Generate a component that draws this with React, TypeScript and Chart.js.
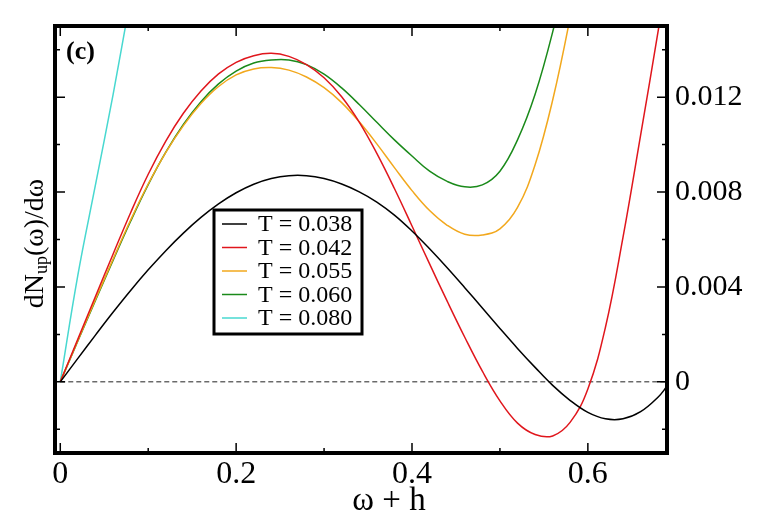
import { useEffect, useRef } from "react";
import { Chart, registerables } from "chart.js";

Chart.register(...registerables);

// omega + h grid (shared by all curves, shorter curves use a prefix of it)
const OMEGA = [
  0, 0.02, 0.04, 0.06, 0.08, 0.1, 0.12, 0.14, 0.16, 0.18, 0.2, 0.22, 0.24, 0.26, 0.28, 0.3, 0.32, 0.34,
  0.36, 0.38, 0.4, 0.42, 0.44, 0.46, 0.48, 0.5, 0.52, 0.54, 0.56, 0.58, 0.6, 0.62, 0.64, 0.66, 0.68, 0.69,
];

const DOS_T038 = [
  0, 0.00099, 0.00197, 0.00293, 0.00385, 0.00472, 0.00553, 0.00627, 0.00693, 0.0075, 0.00797, 0.00833,
  0.00857, 0.00869, 0.00869, 0.00857, 0.00834, 0.00801, 0.00758, 0.00703, 0.00636, 0.00561, 0.00481, 0.00397,
  0.00311, 0.00225, 0.00141, 0.00061, -0.00015, -0.00079, -0.00129, -0.00156, -0.00156, -0.00126, -0.00064,
  -0.00019,
];
const DOS_T042 = [
  0, 0.0018, 0.0036, 0.00538, 0.00713, 0.00875, 0.01015, 0.01132, 0.01226, 0.01298, 0.01347, 0.01375,
  0.01385, 0.01372, 0.01337, 0.01282, 0.01202, 0.01095, 0.00963, 0.00815, 0.00657, 0.00497, 0.0034, 0.00188,
  0.00045, -0.0008, -0.00174, -0.00222, -0.00228, -0.0017, -0.0003, 0.0023, 0.0061, 0.0104, 0.0148, 0.0172,
];
const DOS_T055 = [
  0, 0.00174, 0.00347, 0.00517, 0.00682, 0.00834, 0.00967, 0.0108, 0.01173, 0.01245, 0.01294, 0.01319,
  0.01325, 0.01314, 0.01285, 0.0124, 0.01177, 0.01096, 0.01003, 0.00903, 0.00806, 0.00722, 0.0066, 0.00622,
  0.00619, 0.00645, 0.00735, 0.00915, 0.01188, 0.01539, 0.01949,
];
const DOS_T060 = [
  0, 0.00172, 0.00343, 0.00512, 0.00677, 0.00831, 0.00968, 0.01085, 0.01181, 0.01256, 0.0131, 0.01344,
  0.01357, 0.01357, 0.01337, 0.01297, 0.01239, 0.01169, 0.01094, 0.0102, 0.00952, 0.00888, 0.00845, 0.00822,
  0.0083, 0.00888, 0.0102, 0.01212, 0.01475, 0.01795,
];
const DOS_T080 = [0, 0.0045, 0.0083, 0.0121, 0.0162];

const SERIES_LABELS = ["T = 0.038", "T = 0.042", "T = 0.055", "T = 0.060", "T = 0.080"];
const SERIES_COLORS = ["#000000", "#e0161c", "#f2a81d", "#1a8a1a", "#48d8d0"];

const BASELINE_X = [0, 0.69];
const BASELINE_Y = [0, 0];

const X_TICKS = [0, 0.2, 0.4, 0.6];
const X_TICK_LABELS = ["0", "0.2", "0.4", "0.6"];
const X_MINOR = [0.1, 0.3, 0.5];
const Y_TICKS = [0, 0.004, 0.008, 0.012];
const Y_TICK_LABELS = ["0", "0.004", "0.008", "0.012"];
const Y_MINOR = [-0.002, 0.002, 0.006, 0.01, 0.014];

const SERIF = "'Liberation Serif', 'Times New Roman', serif";

const toPoints = (ys: number[]) => ys.map((y, i) => ({ x: OMEGA[i], y }));

// frame, inward ticks, legend box, panel tag and axis titles
const decorPlugin = {
  id: "decor",
  afterDatasetsDraw(chart: any) {
    const { ctx, chartArea: a, scales } = chart;
    const xs = scales.x;
    const ys = scales.y;
    ctx.save();

    // legend
    const lx = a.left + 159;
    const ly = a.top + 184;
    ctx.fillStyle = "#fff";
    ctx.fillRect(lx, ly, 148, 124);
    ctx.strokeStyle = "#000";
    ctx.lineWidth = 3;
    ctx.strokeRect(lx, ly, 148, 124);
    ctx.font = `24px ${SERIF}`;
    ctx.textBaseline = "middle";
    ctx.textAlign = "left";
    chart.data.datasets.forEach((ds: any, i: number) => {
      if (!ds.inLegend) return;
      const ry = ly + 14 + 23.5 * i;
      ctx.strokeStyle = ds.borderColor;
      ctx.lineWidth = 1.5;
      ctx.beginPath();
      ctx.moveTo(lx + 8, ry);
      ctx.lineTo(lx + 33, ry);
      ctx.stroke();
      ctx.fillStyle = "#000";
      ctx.fillText(ds.label, lx + 44, ry + 1);
    });

    // ticks
    ctx.strokeStyle = "#000";
    ctx.lineWidth = 1.5;
    const xTick = (v: number, len: number) => {
      const px = xs.getPixelForValue(v);
      ctx.beginPath();
      ctx.moveTo(px, a.bottom);
      ctx.lineTo(px, a.bottom - len);
      ctx.moveTo(px, a.top);
      ctx.lineTo(px, a.top + len);
      ctx.stroke();
    };
    const yTick = (v: number, len: number) => {
      const py = ys.getPixelForValue(v);
      ctx.beginPath();
      ctx.moveTo(a.left, py);
      ctx.lineTo(a.left + len, py);
      ctx.moveTo(a.right, py);
      ctx.lineTo(a.right - len, py);
      ctx.stroke();
    };
    X_TICKS.forEach((v) => xTick(v, 10));
    X_MINOR.forEach((v) => xTick(v, 5));
    Y_TICKS.forEach((v) => yTick(v, 10));
    Y_MINOR.forEach((v) => yTick(v, 5));

    // frame
    ctx.lineWidth = 4;
    ctx.strokeRect(a.left, a.top, a.right - a.left, a.bottom - a.top);

    // panel tag
    ctx.fillStyle = "#000";
    ctx.font = `bold 26px ${SERIF}`;
    ctx.textBaseline = "alphabetic";
    ctx.fillText("(c)", a.left + 11, a.top + 33);

    // x title
    ctx.font = `33px ${SERIF}`;
    ctx.textAlign = "center";
    ctx.fillText("ω + h", a.left + 334, chart.height - 13);

    // y title with subscript
    ctx.save();
    ctx.translate(43, 243.5);
    ctx.rotate(-Math.PI / 2);
    ctx.textAlign = "left";
    const big = `28px ${SERIF}`;
    const small = `18px ${SERIF}`;
    const parts: [string, string, number][] = [
      ["dN", big, 0],
      ["up", small, 4],
      ["(ω)/dω", big, 0],
    ];
    let total = 0;
    parts.forEach(([t, f]) => {
      ctx.font = f;
      total += ctx.measureText(t).width;
    });
    let cx = -total / 2;
    parts.forEach(([t, f, dy]) => {
      ctx.font = f;
      ctx.fillText(t, cx, dy);
      cx += ctx.measureText(t).width;
    });
    ctx.restore();

    ctx.restore();
  },
};

const DosChart = () => {
  const canvasRef = useRef<HTMLCanvasElement>(null);

  useEffect(() => {
    if (!canvasRef.current) return;
    const ctx = canvasRef.current.getContext("2d");
    if (!ctx) return;

    const curves = [DOS_T038, DOS_T042, DOS_T055, DOS_T060, DOS_T080];

    const myChart = new Chart(ctx, {
      type: "line",
      data: {
        datasets: [
          ...curves.map((ys, i) => ({
            label: SERIES_LABELS[i],
            data: toPoints(ys),
            borderColor: SERIES_COLORS[i],
            borderWidth: 1.5,
            pointRadius: 0,
            tension: 0.4,
            inLegend: true,
          })),
          {
            label: "zero",
            data: BASELINE_X.map((x, i) => ({ x, y: BASELINE_Y[i] })),
            borderColor: "#222",
            borderWidth: 1,
            borderDash: [5, 3],
            pointRadius: 0,
            inLegend: false,
          },
        ],
      },
      options: {
        animation: false,
        responsive: true,
        maintainAspectRatio: false,
        layout: { padding: { left: 55, top: 25, right: 0, bottom: 0 } },
        plugins: {
          legend: { display: false },
          tooltip: { enabled: false },
        },
        scales: {
          x: {
            type: "linear",
            position: "bottom",
            min: -0.006,
            max: 0.69,
            grid: { display: false, drawTicks: false },
            border: { display: false },
            afterBuildTicks: (s: any) => {
              s.ticks = X_TICKS.map((value) => ({ value }));
            },
            afterFit: (s: any) => {
              s.height = 70;
            },
            ticks: {
              autoSkip: false,
              maxRotation: 0,
              padding: 2,
              color: "#000",
              font: { family: SERIF, size: 32 },
              callback: (_v: any, i: number) => X_TICK_LABELS[i],
            },
          },
          y: {
            type: "linear",
            position: "right",
            min: -0.003,
            max: 0.015,
            grid: { display: false, drawTicks: false },
            border: { display: false },
            afterBuildTicks: (s: any) => {
              s.ticks = Y_TICKS.map((value) => ({ value }));
            },
            afterFit: (s: any) => {
              s.width = 90;
            },
            ticks: {
              autoSkip: false,
              padding: 8,
              color: "#000",
              font: { family: SERIF, size: 30 },
              callback: (_v: any, i: number) => Y_TICK_LABELS[i],
            },
          },
        },
      },
      plugins: [decorPlugin],
    } as any);

    return () => {
      myChart.destroy();
    };
  }, []);

  return (
    <div style={{ position: "fixed", left: 0, top: 0, width: 757, height: 523, background: "#fff" }}>
      <canvas ref={canvasRef}></canvas>
    </div>
  );
};

export default function App() {
  return <DosChart />;
}
